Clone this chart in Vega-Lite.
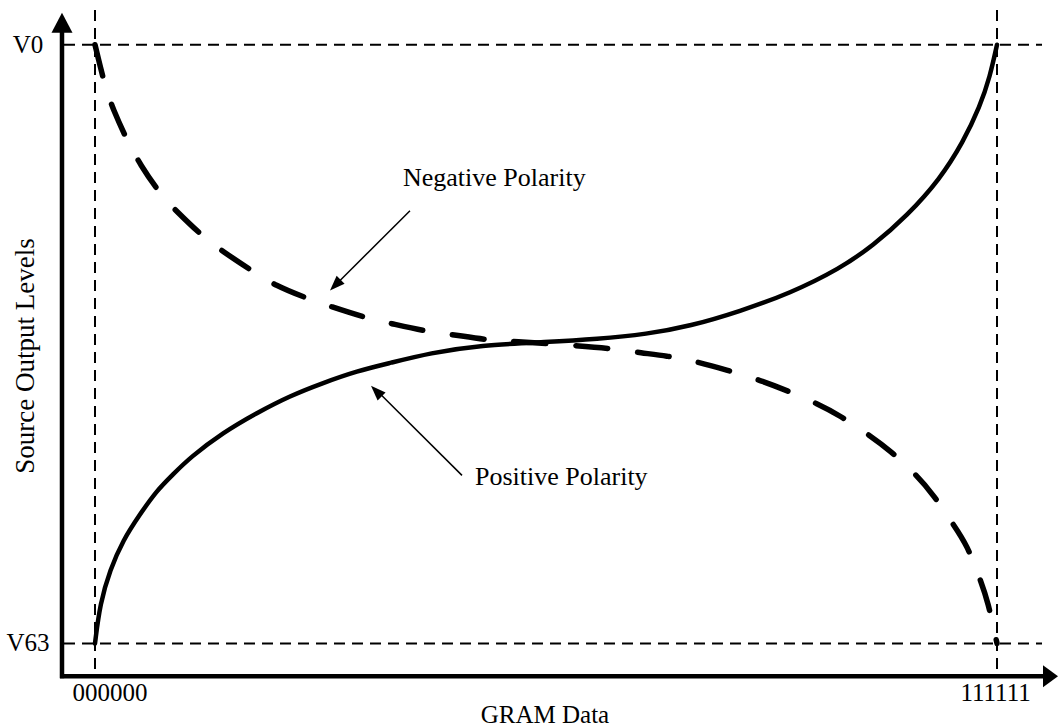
{
  "$schema": "https://vega.github.io/schema/vega-lite/v6.json",
  "width": 1059,
  "height": 728,
  "autosize": {"type": "fit", "contains": "padding"},
  "padding": 0,
  "background": "white",
  "config": {"view": {"stroke": null}},
  "datasets": {
    "curves": [
      {"polarity": "Positive", "gram": 0, "level": 63},
      {"polarity": "Positive", "gram": 0.35, "level": 58.81},
      {"polarity": "Positive", "gram": 1.05, "level": 55.26},
      {"polarity": "Positive", "gram": 1.96, "level": 52.12},
      {"polarity": "Positive", "gram": 3.14, "level": 49.4},
      {"polarity": "Positive", "gram": 4.33, "level": 46.88},
      {"polarity": "Positive", "gram": 5.45, "level": 45.21},
      {"polarity": "Positive", "gram": 6.64, "level": 43.43},
      {"polarity": "Positive", "gram": 8.94, "level": 40.81},
      {"polarity": "Positive", "gram": 11.32, "level": 38.72},
      {"polarity": "Positive", "gram": 13.62, "level": 36.94},
      {"polarity": "Positive", "gram": 15.93, "level": 35.58},
      {"polarity": "Positive", "gram": 18.3, "level": 34.33},
      {"polarity": "Positive", "gram": 20.6, "level": 33.49},
      {"polarity": "Positive", "gram": 23.4, "level": 32.44},
      {"polarity": "Positive", "gram": 26.89, "level": 31.6},
      {"polarity": "Positive", "gram": 31.57, "level": 31.29},
      {"polarity": "Positive", "gram": 35.06, "level": 30.98},
      {"polarity": "Positive", "gram": 38.56, "level": 30.45},
      {"polarity": "Positive", "gram": 41.56, "level": 29.62},
      {"polarity": "Positive", "gram": 45.05, "level": 28.05},
      {"polarity": "Positive", "gram": 48.54, "level": 26.16},
      {"polarity": "Positive", "gram": 52.04, "level": 23.55},
      {"polarity": "Positive", "gram": 54.34, "level": 21.14},
      {"polarity": "Positive", "gram": 56.72, "level": 18.0},
      {"polarity": "Positive", "gram": 59.02, "level": 14.13},
      {"polarity": "Positive", "gram": 60.63, "level": 10.26},
      {"polarity": "Positive", "gram": 61.81, "level": 6.49},
      {"polarity": "Positive", "gram": 62.51, "level": 3.35},
      {"polarity": "Positive", "gram": 63, "level": 0},
      {"polarity": "Negative", "gram": 0, "level": 0},
      {"polarity": "Negative", "gram": 0.7, "level": 4.4},
      {"polarity": "Negative", "gram": 1.26, "level": 6.8},
      {"polarity": "Negative", "gram": 2.3, "level": 10.26},
      {"polarity": "Negative", "gram": 3.14, "level": 12.56},
      {"polarity": "Negative", "gram": 4.54, "level": 15.7},
      {"polarity": "Negative", "gram": 5.73, "level": 17.58},
      {"polarity": "Negative", "gram": 7.54, "level": 20.2},
      {"polarity": "Negative", "gram": 8.94, "level": 21.77},
      {"polarity": "Negative", "gram": 11.04, "level": 23.86},
      {"polarity": "Negative", "gram": 12.57, "level": 25.33},
      {"polarity": "Negative", "gram": 14.81, "level": 26.69},
      {"polarity": "Negative", "gram": 16.41, "level": 27.52},
      {"polarity": "Negative", "gram": 19.0, "level": 28.78},
      {"polarity": "Negative", "gram": 20.6, "level": 29.3},
      {"polarity": "Negative", "gram": 23.05, "level": 30.14},
      {"polarity": "Negative", "gram": 24.8, "level": 30.45},
      {"polarity": "Negative", "gram": 27.38, "level": 31.08},
      {"polarity": "Negative", "gram": 28.99, "level": 31.19},
      {"polarity": "Negative", "gram": 34.09, "level": 31.71},
      {"polarity": "Negative", "gram": 35.76, "level": 31.92},
      {"polarity": "Negative", "gram": 38.28, "level": 32.44},
      {"polarity": "Negative", "gram": 39.95, "level": 32.76},
      {"polarity": "Negative", "gram": 41.56, "level": 33.17},
      {"polarity": "Negative", "gram": 44.14, "level": 34.22},
      {"polarity": "Negative", "gram": 46.59, "level": 35.37},
      {"polarity": "Negative", "gram": 48.19, "level": 36.31},
      {"polarity": "Negative", "gram": 50.5, "level": 37.78},
      {"polarity": "Negative", "gram": 52.04, "level": 39.03},
      {"polarity": "Negative", "gram": 54.13, "level": 41.13},
      {"polarity": "Negative", "gram": 55.53, "level": 42.7},
      {"polarity": "Negative", "gram": 57.41, "level": 45.31},
      {"polarity": "Negative", "gram": 58.53, "level": 47.3},
      {"polarity": "Negative", "gram": 59.93, "level": 50.44},
      {"polarity": "Negative", "gram": 60.91, "level": 52.64},
      {"polarity": "Negative", "gram": 61.81, "level": 56.2},
      {"polarity": "Negative", "gram": 62.37, "level": 58.6},
      {"polarity": "Negative", "gram": 63, "level": 63}
    ],
    "segments": [
      {"kind": "guide", "gram": 0, "level": -3.663, "gram2": 0, "level2": 66.453},
      {"kind": "guide", "gram": 63, "level": -3.663, "gram2": 63, "level2": 66.453},
      {"kind": "guide", "gram": -2.165, "level": 0, "gram2": 66.143, "level2": 0},
      {"kind": "guide", "gram": -2.165, "level": 63, "gram2": 66.143, "level2": 63},
      {"kind": "axis", "gram": -2.305, "level": -2.093, "gram2": -2.305, "level2": 66.663},
      {"kind": "axis", "gram": -2.445, "level": 66.453, "gram2": 66.352, "level2": 66.453},
      {"kind": "pointer", "gram": 22.001, "level": 17.477, "gram2": 16.833, "level2": 25.221},
      {"kind": "pointer", "gram": 25.633, "level": 45.314, "gram2": 19.696, "level2": 36.418}
    ],
    "heads": [
      {"head": "yAxis", "gram": -2.305, "level": -2.302},
      {"head": "xAxis", "gram": 66.737, "level": 66.453},
      {"head": "negative", "gram": 16.784, "level": 25.294},
      {"head": "positive", "gram": 19.647, "level": 36.45}
    ],
    "labels": [
      {"role": "tick", "text": "V0", "gram": -4.68, "level": 0},
      {"role": "tick", "text": "V63", "gram": -4.68, "level": 63},
      {"role": "tick", "text": "000000", "gram": 1.05, "level": 68.232},
      {"role": "tick", "text": "111111", "gram": 62.9, "level": 68.232},
      {"role": "tick", "text": "GRAM Data", "gram": 31.43, "level": 70.5},
      {"role": "title", "text": "Source Output Levels", "gram": -4.819, "level": 32.756},
      {"role": "note", "text": "Negative Polarity", "gram": 21.512, "level": 14.86},
      {"role": "note", "text": "Positive Polarity", "gram": 26.541, "level": 46.36}
    ]
  },
  "encoding": {
    "x": {"field": "gram", "type": "quantitative", "scale": {"domain": [-6.635, 67.33], "nice": false, "zero": false}, "axis": null},
    "y": {"field": "level", "type": "quantitative", "scale": {"domain": [-4.709, 71.477], "nice": false, "zero": false, "reverse": true}, "axis": null}
  },
  "layer": [
    {
      "data": {"name": "segments"},
      "transform": [{"filter": "datum.kind === 'guide'"}],
      "mark": {"type": "rule", "color": "black", "strokeWidth": 2, "strokeDash": [11, 7]},
      "encoding": {"x2": {"field": "gram2"}, "y2": {"field": "level2"}}
    },
    {
      "data": {"name": "segments"},
      "transform": [{"filter": "datum.kind === 'axis'"}],
      "mark": {"type": "rule", "color": "black", "strokeWidth": 4.5},
      "encoding": {"x2": {"field": "gram2"}, "y2": {"field": "level2"}}
    },
    {
      "data": {"name": "segments"},
      "transform": [{"filter": "datum.kind === 'pointer'"}],
      "mark": {"type": "rule", "color": "black", "strokeWidth": 1.5},
      "encoding": {"x2": {"field": "gram2"}, "y2": {"field": "level2"}}
    },
    {
      "data": {"name": "curves"},
      "transform": [{"filter": "datum.polarity === 'Positive'"}],
      "mark": {"type": "line", "color": "black", "strokeWidth": 4.5, "interpolate": "basis", "strokeCap": "round"}
    },
    {
      "data": {"name": "curves"},
      "transform": [{"filter": "datum.polarity === 'Negative'"}],
      "mark": {"type": "line", "color": "black", "strokeWidth": 5.5, "interpolate": "basis", "strokeCap": "round", "strokeDash": [32, 30]}
    },
    {
      "data": {"name": "heads"},
      "transform": [{"filter": "datum.head === 'yAxis'"}],
      "mark": {"type": "point", "filled": true, "color": "black", "opacity": 1, "size": 400, "shape": "M0,-1L-1.05,1L1.05,1Z"}
    },
    {
      "data": {"name": "heads"},
      "transform": [{"filter": "datum.head === 'xAxis'"}],
      "mark": {"type": "point", "filled": true, "color": "black", "opacity": 1, "size": 400, "shape": "M0.75,0L-0.75,-1.1L-0.75,1.1Z"}
    },
    {
      "data": {"name": "heads"},
      "transform": [{"filter": "datum.head === 'negative'"}],
      "mark": {"type": "point", "filled": true, "color": "black", "opacity": 1, "size": 225, "angle": 225, "shape": "M0,-1L-0.75,1L0.75,1Z"}
    },
    {
      "data": {"name": "heads"},
      "transform": [{"filter": "datum.head === 'positive'"}],
      "mark": {"type": "point", "filled": true, "color": "black", "opacity": 1, "size": 225, "angle": 315, "shape": "M0,-1L-0.75,1L0.75,1Z"}
    },
    {
      "data": {"name": "labels"},
      "transform": [{"filter": "datum.role === 'tick'"}],
      "mark": {"type": "text", "font": "Liberation Serif", "fontSize": 25, "color": "black", "align": "center", "baseline": "middle"},
      "encoding": {"text": {"field": "text"}}
    },
    {
      "data": {"name": "labels"},
      "transform": [{"filter": "datum.role === 'title'"}],
      "mark": {"type": "text", "font": "Liberation Serif", "fontSize": 27, "color": "black", "align": "center", "baseline": "middle", "angle": 270},
      "encoding": {"text": {"field": "text"}}
    },
    {
      "data": {"name": "labels"},
      "transform": [{"filter": "datum.role === 'note'"}],
      "mark": {"type": "text", "font": "Liberation Serif", "fontSize": 26, "color": "black", "align": "left", "baseline": "alphabetic"},
      "encoding": {"text": {"field": "text"}}
    }
  ]
}
